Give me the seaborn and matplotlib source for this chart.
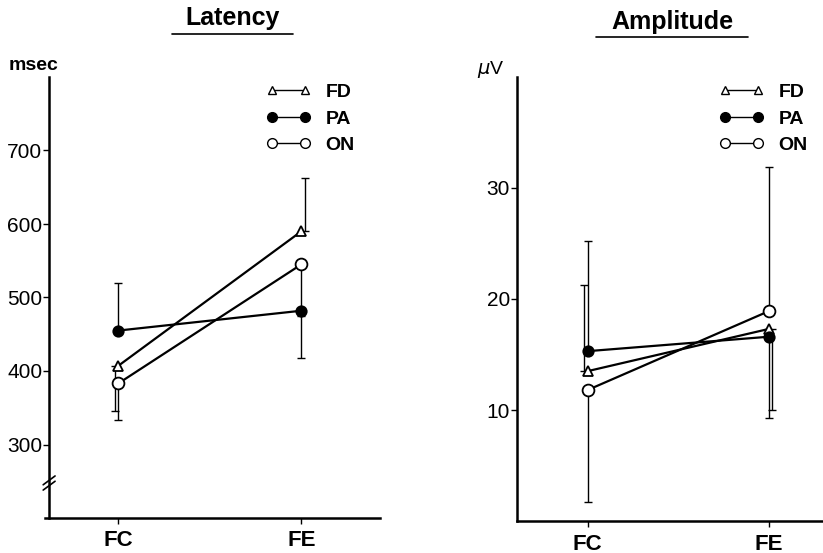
import numpy as np
import pandas as pd
import matplotlib
matplotlib.use('Agg')
import matplotlib.pyplot as plt
import seaborn as sns
from matplotlib.lines import Line2D

sns.set_theme(style='ticks')
plt.rcParams['font.family'] = ['Liberation Sans', 'DejaVu Sans']
plt.rcParams['text.color'] = 'black'
plt.rcParams['xtick.color'] = 'black'
plt.rcParams['ytick.color'] = 'black'

conds = ['FC', 'FE']
groups = ['FD', 'PA', 'ON']

# latency (msec): means and one-sided error bar ends
lat_mean = {'FD': [407, 590], 'PA': [455, 482], 'ON': [383, 545]}
lat_err_lo = {'FD': [345, None], 'PA': [None, 418], 'ON': [333, 475]}
lat_err_hi = {'FD': [None, 662], 'PA': [520, None], 'ON': [None, None]}

# amplitude (uV)
amp_mean = {'FD': [13.5, 17.3], 'PA': [15.3, 16.6], 'ON': [11.8, 18.9]}
amp_err_lo = {'FD': [None, 10.0], 'PA': [None, 9.3], 'ON': [1.7, None]}
amp_err_hi = {'FD': [21.3, None], 'PA': [25.2, None], 'ON': [None, 31.9]}

lat_ticks = [300, 400, 500, 600, 700]
amp_ticks = [10, 20, 30]

styles = {'FD': dict(marker='^', mfc='white', ms=7.5),
          'PA': dict(marker='o', mfc='black', ms=7.5),
          'ON': dict(marker='o', mfc='white', ms=8.5)}
# small horizontal shifts so overlapping error bars stay visible
shift = {'FD': -0.02, 'PA': 0.0, 'ON': 0.0}

fig = plt.figure(figsize=(8.23, 5.53), dpi=100)
ax1 = fig.add_axes([45/823, 1-518/553, 335/823, 441/553])
ax2 = fig.add_axes([517/823, 1-521/553, 306/823, 444/553])


def draw(ax, mean, lo, hi):
    for g in groups:
        df = pd.DataFrame({'x': [0, 1], 'y': mean[g]})
        for i in range(2):
            xs = i + (shift[g] if i == 0 else -shift[g])
            if lo[g][i] is not None:
                ax.errorbar([xs], [mean[g][i]], yerr=[[mean[g][i] - lo[g][i]], [0]],
                            fmt='none', ecolor='black', elinewidth=1, capsize=3,
                            capthick=1, zorder=1)
            if hi[g][i] is not None:
                ax.errorbar([xs], [mean[g][i]], yerr=[[0], [hi[g][i] - mean[g][i]]],
                            fmt='none', ecolor='black', elinewidth=1, capsize=3,
                            capthick=1, zorder=1)
        sns.lineplot(data=df, x='x', y='y', ax=ax, color='black', lw=1.6,
                     mec='black', mew=1.3, zorder=3, **styles[g])


draw(ax1, lat_mean, lat_err_lo, lat_err_hi)
draw(ax2, amp_mean, amp_err_lo, amp_err_hi)

ax1.set_xlim(-0.4, 1.43)
ax1.set_ylim(200, 800)
ax1.set_yticks(lat_ticks)
ax2.set_xlim(-0.39, 1.30)
ax2.set_ylim(0, 40)
ax2.set_yticks(amp_ticks)

for ax in (ax1, ax2):
    ax.set_xticks([0, 1])
    ax.set_xticklabels(conds, fontsize=16, fontweight='bold')
    ax.set_xlabel('')
    ax.set_ylabel('')
    for s in ['top', 'right']:
        ax.spines[s].set_visible(False)
    for s in ['left', 'bottom']:
        ax.spines[s].set_linewidth(1.8)
        ax.spines[s].set_color('black')
    ax.tick_params(axis='y', length=4, width=1, pad=1, labelsize=15)
    ax.tick_params(axis='x', length=4, width=1, pad=5)
    ax.set_facecolor('white')

ax1.spines['left'].set_position(('data', -0.377))

# axis break marks on the latency axis
for dy in (0, 0.012):
    ax1.plot([-0.41, -0.345], [238 + dy*600, 250 + dy*600], color='black',
             lw=1.2, clip_on=False)

handles = [Line2D([], [], color='black', lw=1, marker='^', mfc='white', mec='black', ms=5.5),
           Line2D([], [], color='black', lw=1, marker='o', mfc='black', mec='black', ms=7),
           Line2D([], [], color='black', lw=1, marker='o', mfc='white', mec='black', ms=7)]
for ax in (ax1, ax2):
    ax.legend(handles, groups, loc='upper left', bbox_to_anchor=(0.66, 0.985),
              frameon=False, numpoints=2, handlelength=2.3, handletextpad=0.75,
              labelspacing=0.45, borderpad=0, borderaxespad=0,
              prop=dict(size=14, weight='bold'))

fig.text(233/823, 1-18/553, 'Latency', ha='center', va='center', fontsize=18,
         fontweight='bold')
fig.add_artist(Line2D([172/823, 293/823], [1-34/553, 1-34/553], color='black', lw=1.2))
fig.text(672/823, 1-22/553, 'Amplitude', ha='center', va='center', fontsize=18,
         fontweight='bold')
fig.add_artist(Line2D([596/823, 748/823], [1-37/553, 1-37/553], color='black', lw=1.2))

fig.text(9/823, 1-65/553, 'msec', ha='left', va='center', fontsize=14, fontweight='bold')
fig.text(477/823, 1-70/553, r'$\mu$V', ha='left', va='center', fontsize=14)

fig.savefig('out.png', dpi=100, facecolor='white')
